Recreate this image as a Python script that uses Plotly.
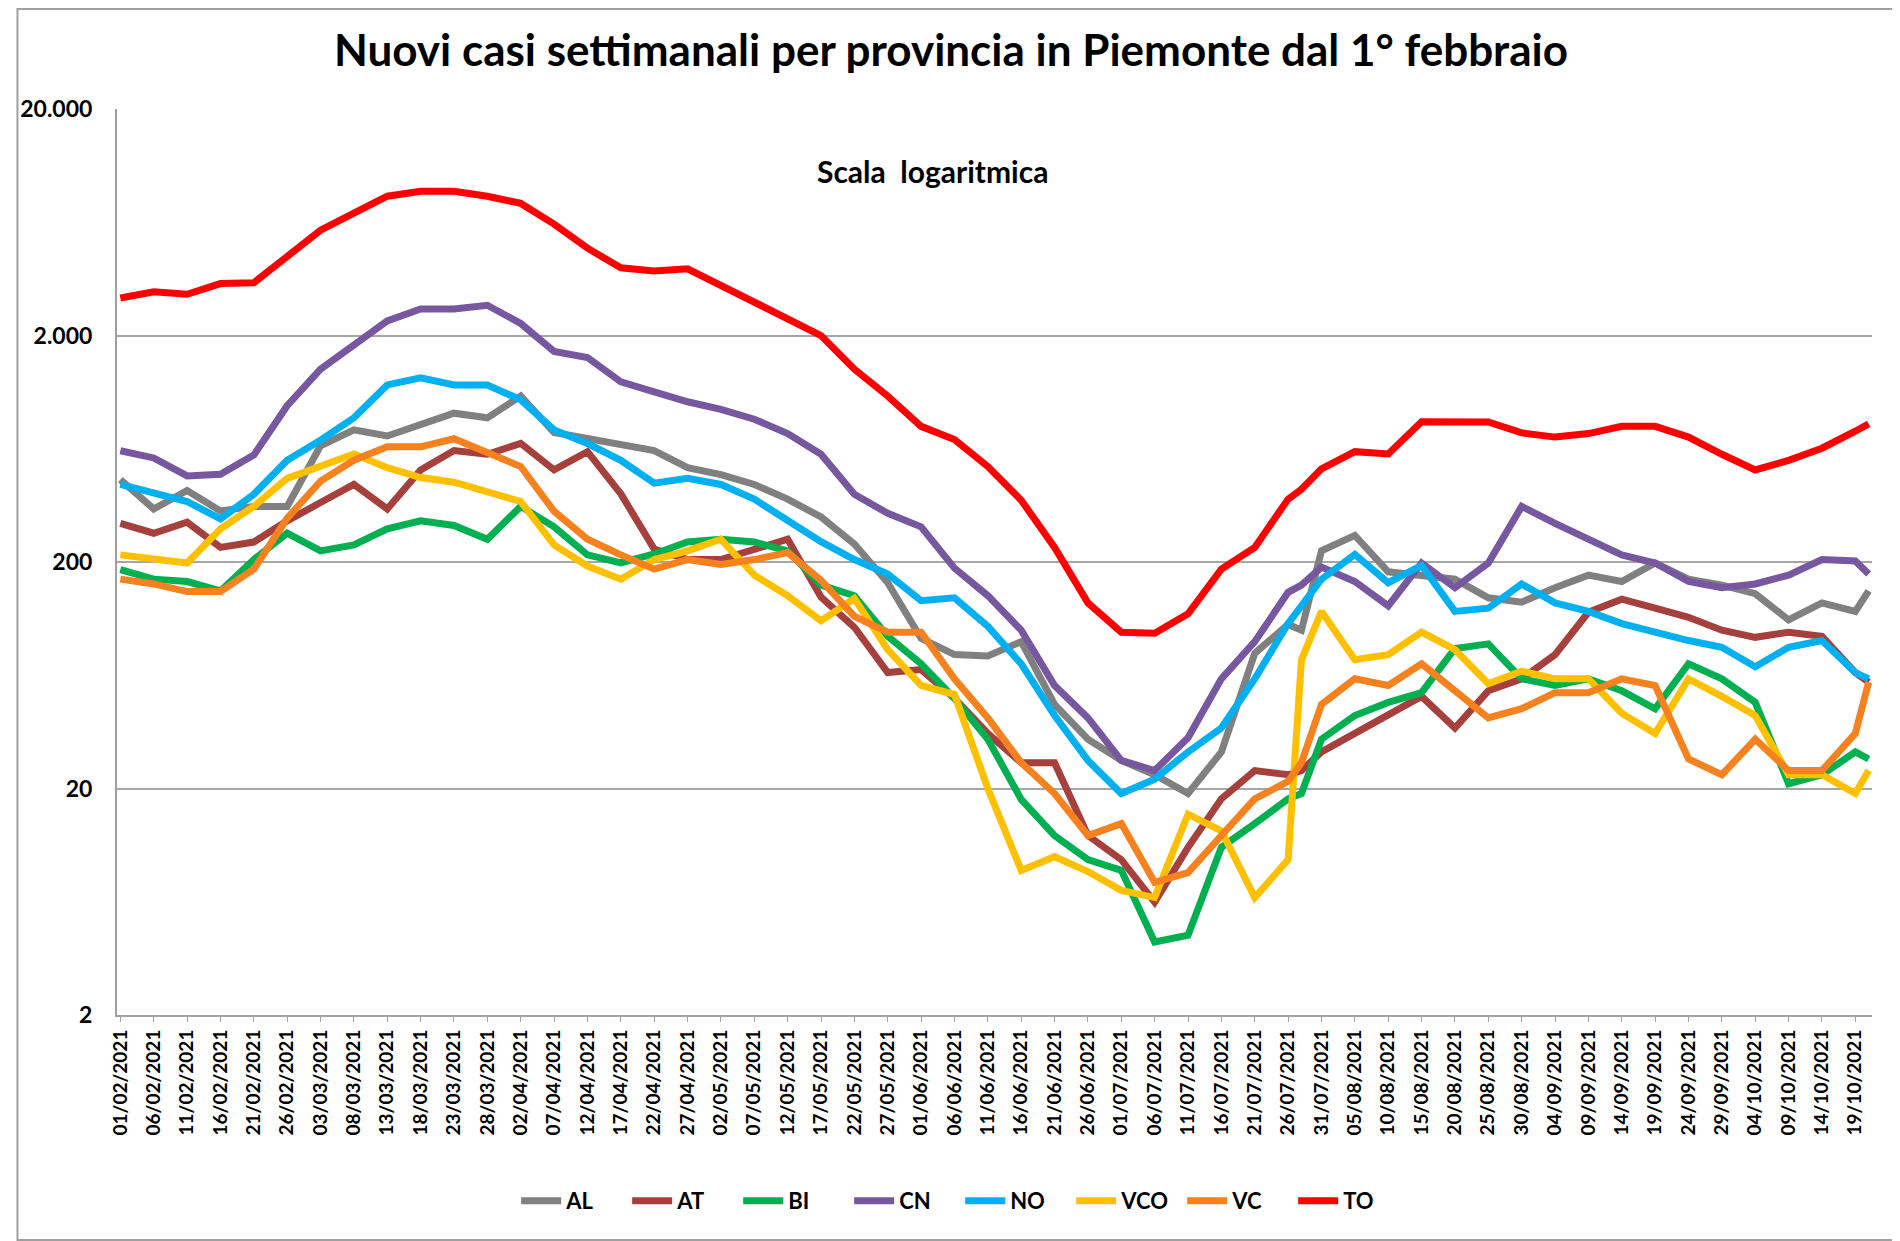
import plotly.graph_objects as go

dates = ["2021-02-01","2021-02-06","2021-02-11","2021-02-16","2021-02-21","2021-02-26",
         "2021-03-03","2021-03-08","2021-03-13","2021-03-18","2021-03-23","2021-03-28",
         "2021-04-02","2021-04-07","2021-04-12","2021-04-17","2021-04-22","2021-04-27",
         "2021-05-02","2021-05-07","2021-05-12","2021-05-17","2021-05-22","2021-05-27",
         "2021-06-01","2021-06-06","2021-06-11","2021-06-16","2021-06-21","2021-06-26",
         "2021-07-01","2021-07-06","2021-07-11","2021-07-16","2021-07-21","2021-07-26",
         "2021-07-28","2021-07-31","2021-08-05","2021-08-10","2021-08-15","2021-08-20",
         "2021-08-25","2021-08-30","2021-09-04","2021-09-09","2021-09-14","2021-09-19",
         "2021-09-24","2021-09-29","2021-10-04","2021-10-09","2021-10-14","2021-10-19",
         "2021-10-21"]

AL = [462, 343, 414, 336, 352, 352, 652, 766, 720, 804, 908, 866, 1080, 746, 703, 667, 621, 522,
      486, 440, 379, 316, 240, 162, 92, 78, 77, 89, 47, 33, 26.6, 23, 19, 29, 79, 106,
      100, 224, 262, 181, 174, 168, 139, 133, 154, 175, 164, 198, 168, 158, 145, 111, 132, 121, 149]
AT = [296, 268, 300, 232, 245, 304, 366, 440, 343, 510, 621, 598, 668, 510, 614, 400, 228, 205,
      205, 226, 252, 140, 103, 65, 67, 50, 35, 26, 26, 12.4, 9.7, 6.3, 11, 18, 24, 23,
      24, 29, 35, 42, 51, 37, 54, 61, 78, 120, 137, 125, 114, 100, 93, 98, 94, 65, 59]
BI = [185, 168, 164, 149, 205, 268, 224, 238, 280, 304, 290, 252, 352, 286, 215, 198, 217, 245,
      252, 245, 224, 158, 142, 94, 71, 50, 33, 17.9, 12.4, 9.7, 8.7, 4.2, 4.5, 11, 14, 18,
      19, 33, 42, 48, 53, 83, 87, 61, 57, 61, 54, 45, 71, 61, 48, 21, 23, 29, 27]
CN = [620, 576, 480, 488, 593, 980, 1420, 1810, 2320, 2620, 2620, 2720, 2260, 1700, 1600, 1250, 1130, 1020,
      944, 854, 738, 598, 398, 328, 286, 188, 142, 100, 57, 41, 26.6, 24, 33.5, 61, 89, 147,
      158, 190, 164, 128, 198, 154, 198, 352, 296, 252, 215, 198, 164, 154, 160, 175, 205, 202, 177]
NO = [440, 400, 370, 310, 398, 562, 690, 866, 1210, 1300, 1210, 1210, 1040, 766, 667, 562, 446, 468,
      440, 379, 304, 246, 205, 177, 135, 139, 104, 71, 42, 26.6, 19, 22, 29, 37, 61, 107,
      128, 168, 216, 162, 193, 121, 125, 160, 132, 121, 107, 98, 90, 84, 69, 84, 90, 65, 61]
VCO = [215, 205, 198, 280, 352, 468, 530, 600, 522, 472, 450, 408, 370, 238, 192, 168, 205, 224,
       252, 175, 142, 110, 138, 82, 57, 52, 20, 8.7, 10, 8.6, 7.1, 6.6, 15.4, 13, 6.6, 9.7,
       74, 121, 74, 78, 98, 82, 58, 66, 61, 61, 43, 35, 61, 51, 42, 23, 23, 19, 24]
VC = [168, 160, 148, 148, 186, 312, 455, 563, 645, 645, 700, 606, 528, 335, 252, 215, 186, 205,
      195, 205, 220, 166, 115, 98, 98, 61, 41, 26, 19, 12.4, 14, 7.7, 8.5, 12.4, 18, 21.5,
      26, 47, 61, 57, 71, 54, 41, 45, 53, 53, 61, 57, 27, 23, 33, 24, 24, 35, 59]
TO = [2930, 3120, 3040, 3390, 3420, 4480, 5830, 6940, 8240, 8660, 8660, 8240, 7660, 6210, 4860, 3980, 3850, 3940,
      3320, 2790, 2350, 2000, 1420, 1080, 794, 694, 528, 375, 232, 132, 98, 97, 118, 186, 232, 379,
      419, 516, 614, 600, 832, 830, 830, 743, 712, 738, 794, 794, 712, 598, 510, 562, 636, 756, 814]

series_names = ["AL", "AT", "BI", "CN", "NO", "VCO", "VC", "TO"]
series_values = [AL, AT, BI, CN, NO, VCO, VC, TO]
series_colors = ["#808080", "#A5403D", "#00B050", "#7657A0", "#00B0F0", "#FFC000", "#F5821F", "#FF0000"]

tick_dates = ["2021-02-01","2021-02-06","2021-02-11","2021-02-16","2021-02-21","2021-02-26",
              "2021-03-03","2021-03-08","2021-03-13","2021-03-18","2021-03-23","2021-03-28",
              "2021-04-02","2021-04-07","2021-04-12","2021-04-17","2021-04-22","2021-04-27",
              "2021-05-02","2021-05-07","2021-05-12","2021-05-17","2021-05-22","2021-05-27",
              "2021-06-01","2021-06-06","2021-06-11","2021-06-16","2021-06-21","2021-06-26",
              "2021-07-01","2021-07-06","2021-07-11","2021-07-16","2021-07-21","2021-07-26",
              "2021-07-31","2021-08-05","2021-08-10","2021-08-15","2021-08-20","2021-08-25",
              "2021-08-30","2021-09-04","2021-09-09","2021-09-14","2021-09-19","2021-09-24",
              "2021-09-29","2021-10-04","2021-10-09","2021-10-14","2021-10-19"]
tick_text = [d[8:10] + "/" + d[5:7] + "/" + d[0:4] for d in tick_dates]

y_tickvals = [2, 20, 200, 2000, 20000]
y_ticktext = ["2", "20", "200", "2.000", "20.000"]

FONT = "Lato, 'Open Sans', Arial, sans-serif"

# page body has an 8px default margin, so the figure is 8px smaller and shifted
W, H = 1892, 1233
L, T = 101, 101
PW, PH = 1763, 906
R = W - L - PW
B = H - T - PH

fig = go.Figure()
for name, vals, col in zip(series_names, series_values, series_colors):
    fig.add_trace(go.Scatter(x=dates, y=vals, name=name, mode="lines",
                             line=dict(color=col, width=7)))

fig.update_layout(
    width=W, height=H,
    paper_bgcolor="white", plot_bgcolor="white",
    margin=dict(l=L, r=R, t=T, b=B),
    font=dict(family=FONT, color="black"),
    title=dict(text="Nuovi casi settimanali per provincia in Piemonte dal 1° febbraio",
               x=943 / W, xanchor="center", y=1 - 43 / H, yanchor="middle",
               font=dict(size=44, family=FONT, color="black", weight="bold")),
    showlegend=True,
    legend=dict(orientation="h", x=(948 - L) / PW, xanchor="center",
                y=(T + PH - 1193) / PH, yanchor="middle",
                font=dict(size=22, family=FONT, color="black", weight="bold"),
                entrywidth=56, entrywidthmode="pixels", itemwidth=40,
                bgcolor="rgba(0,0,0,0)"),
    annotations=[dict(text="Scala  logaritmica", xref="paper", yref="paper",
                      x=(920 - L) / PW, y=(T + PH - 163) / PH, xanchor="center", yanchor="middle",
                      showarrow=False, font=dict(size=30, family=FONT, color="black", weight="bold"))],
    shapes=[dict(type="rect", xref="paper", yref="paper", x0=-(L - 1) / PW, x1=1 + (R - 1) / PW,
                 y0=-(B - 1) / PH, y1=1 + (T - 1) / PH, line=dict(color="#A0A0A0", width=2))],
)

fig.update_xaxes(type="date", range=["2021-01-31 12:00", "2021-10-21 12:00"],
                 tickmode="array", tickvals=tick_dates, ticktext=tick_text, tickangle=-90,
                 tickfont=dict(size=19, family=FONT, color="black", weight="bold"),
                 showgrid=False, showline=True, linecolor="#A0A0A0", linewidth=2,
                 ticks="outside", ticklen=5, tickcolor="#A0A0A0", zeroline=False)
fig.update_yaxes(type="log", range=[0.30103, 4.30103], tickmode="array",
                 tickvals=y_tickvals, ticktext=y_ticktext,
                 tickfont=dict(size=23, family=FONT, color="black", weight="bold"),
                 showgrid=True, gridcolor="#A6A6A6", gridwidth=2,
                 showline=True, linecolor="#A0A0A0", linewidth=2, ticklabelstandoff=18,
                 zeroline=False)

fig.write_html("out.html")
